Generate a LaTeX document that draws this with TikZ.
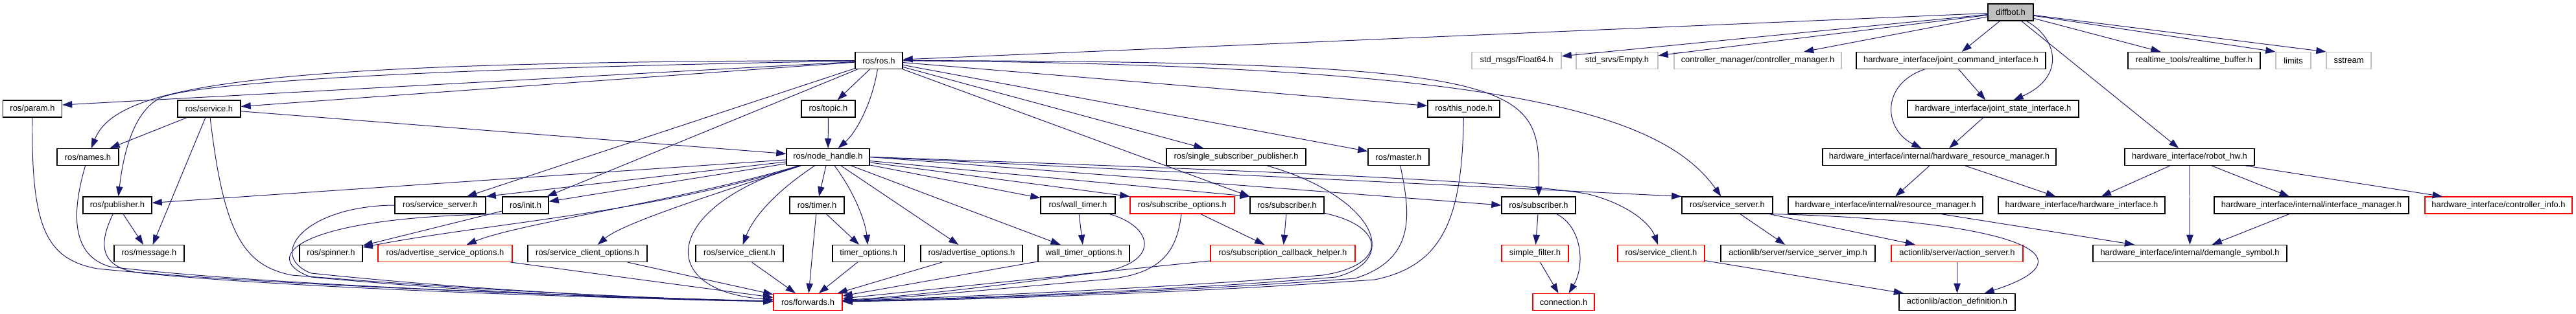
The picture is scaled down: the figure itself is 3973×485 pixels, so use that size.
\documentclass[tikz,border=0pt]{standalone}
\usepackage{fontspec}
\setmainfont{Liberation Sans}
\usepackage{tikz}
\usetikzlibrary{arrows.meta}
\definecolor{edgeblue}{HTML}{191970}
\definecolor{extgray}{HTML}{BFBFBF}

\begin{document}
\begin{tikzpicture}[
  x=0.25mm, y=-0.25mm,
  incbox/.style={rectangle, draw=black, line width=0.8pt, fill=white,
    minimum height=6.5mm, inner xsep=1mm, inner ysep=0pt,
    font=\fontsize{9.2}{10}\selectfont},
  redbox/.style={incbox, draw=red},
  extbox/.style={incbox, draw=extgray},
  rootbox/.style={incbox, fill=extgray},
  bw/.style={minimum width=#1*0.25mm},
  arr/.style={-{Triangle[length=3.8mm, width=2.6mm]}, draw=edgeblue, line width=0.7pt}
]
\useasboundingbox (0,0) rectangle (3973,485);

% Nodes
\node[rootbox, bw=70] (diffbot) at (3101,19) {diffbot.h};

% row 1
\node[incbox, bw=73] (ros) at (1355.5,93.5) {ros/ros.h};
\node[extbox, bw=138] (float64) at (2339,93.5) {std\_msgs/Float64.h};
\node[extbox, bw=126] (empty) at (2494,93.5) {std\_srvs/Empty.h};
\node[extbox, bw=258] (ctrlmgr) at (2711,93.5) {controller\_manager/controller\_manager.h};
\node[incbox, bw=292] (jcmd) at (3009,93.5) {hardware\_interface/joint\_command\_interface.h};
\node[incbox, bw=204] (rtbuf) at (3384,93.5) {realtime\_tools/realtime\_buffer.h};
\node[extbox, bw=54] (limits) at (3537,93.5) {limits};
\node[extbox, bw=69] (sstream) at (3622.5,93.5) {sstream};

% row 2
\node[incbox, bw=91] (param) at (50,168) {ros/param.h};
\node[incbox, bw=97] (service) at (322.5,168) {ros/service.h};
\node[incbox, bw=83] (topic) at (1277.5,168) {ros/topic.h};
\node[incbox, bw=111] (thisnode) at (2257.5,168) {ros/this\_node.h};
\node[incbox, bw=264] (jstate) at (3074,168) {hardware\_interface/joint\_state\_interface.h};

% row 3
\node[incbox, bw=95] (names) at (135.5,242.5) {ros/names.h};
\node[incbox, bw=128] (nh) at (1277,242.5) {ros/node\_handle.h};
\node[incbox, bw=215] (ssp) at (1906.5,242.5) {ros/single\_subscriber\_publisher.h};
\node[incbox, bw=94] (master) at (2157,242.5) {ros/master.h};
\node[incbox, bw=360] (hwrm) at (2991,242.5) {hardware\_interface/internal/hardware\_resource\_manager.h};
\node[incbox, bw=200] (robothw) at (3377,242.5) {hardware\_interface/robot\_hw.h};

% row 4
\node[incbox, bw=106] (pub) at (181,317) {ros/publisher.h};
\node[incbox, bw=140] (srvsrv) at (679,317) {ros/service\_server.h};
\node[incbox, bw=71] (init) at (810.5,317) {ros/init.h};
\node[incbox, bw=84] (timer) at (1260,317) {ros/timer.h};
\node[incbox, bw=115] (wtimer) at (1662.5,317) {ros/wall\_timer.h};
\node[redbox, bw=161] (subopts) at (1823.5,317) {ros/subscribe\_options.h};
\node[incbox, bw=114] (sub) at (1985,317) {ros/subscriber.h};
\node[incbox, bw=114] (subb) at (2373,317) {ros/subscriber.h};
\node[incbox, bw=140] (srvsrvb) at (2664,317) {ros/service\_server.h};
\node[incbox, bw=300] (resmgr) at (2908,317) {hardware\_interface/internal/resource\_manager.h};
\node[incbox, bw=257] (hwif) at (3210.5,317) {hardware\_interface/hardware\_interface.h};
\node[incbox, bw=300] (ifmgr) at (3565,317) {hardware\_interface/internal/interface\_manager.h};
\node[redbox, bw=227] (ctrlinfo) at (3853.5,317) {hardware\_interface/controller\_info.h};

% row 5
\node[incbox, bw=108] (msg) at (230,391.5) {ros/message.h};
\node[incbox, bw=97] (spinner) at (510.5,391.5) {ros/spinner.h};
\node[redbox, bw=207] (advsrvopts) at (686.5,391.5) {ros/advertise\_service\_options.h};
\node[incbox, bw=184] (srvcliopts) at (906,391.5) {ros/service\_client\_options.h};
\node[incbox, bw=135] (srvcli) at (1140.5,391.5) {ros/service\_client.h};
\node[incbox, bw=111] (timeropts) at (1339.5,391.5) {timer\_options.h};
\node[incbox, bw=157] (advopts) at (1498.5,391.5) {ros/advertise\_options.h};
\node[incbox, bw=141] (wtimeropts) at (1671.5,391.5) {wall\_timer\_options.h};
\node[redbox, bw=223] (subcb) at (1978.5,391.5) {ros/subscription\_callback\_helper.h};
\node[redbox, bw=103] (sfilter) at (2367.5,391.5) {simple\_filter.h};
\node[redbox, bw=134] (srvclib) at (2562,391.5) {ros/service\_client.h};
\node[incbox, bw=238] (srvimp) at (2773,391.5) {actionlib/server/service\_server\_imp.h};
\node[redbox, bw=203] (actsrv) at (3018.5,391.5) {actionlib/server/action\_server.h};
\node[incbox, bw=299] (demangle) at (3377.5,391.5) {hardware\_interface/internal/demangle\_symbol.h};

% row 6
\node[redbox, bw=106] (fwd) at (1246,466.5) {ros/forwards.h};
\node[redbox, bw=95] (conn) at (2411.5,466.5) {connection.h};
\node[incbox, bw=179] (actdef) at (3018.5,466.5) {actionlib/action\_definition.h};

% Arrows from diffbot.h
\draw[arr] (diffbot) -- (ros);
\draw[arr] (diffbot) -- (float64);
\draw[arr] (diffbot) -- (empty);
\draw[arr] (diffbot) -- (ctrlmgr);
\draw[arr] (diffbot) -- (jcmd);
\draw[arr] (diffbot) .. controls (3175,60) and (3185,120) .. (jstate);
\draw[arr] (diffbot) -- (robothw);
\draw[arr] (diffbot) -- (rtbuf);
\draw[arr] (diffbot) -- (limits.north west);
\draw[arr] (diffbot) -- (sstream.north west);

% Arrows from ros/ros.h
\draw[arr] (ros) -- ([yshift=1.5mm]param.east);
\draw[arr] (ros) .. controls (400,95) and (180,130) .. (names);
\draw[arr] (ros) .. controls (700,105) and (320,125) .. (250,150)
  .. controls (205,170) and (190,240) .. (pub);
\draw[arr] (ros) -- (service);
\draw[arr] (ros) -- (srvsrv);
\draw[arr] (ros) -- (init);
\draw[arr] (ros) -- (topic);
\draw[arr] (ros) .. controls (1345,160) and (1320,205) .. (nh);
\draw[arr] (ros) -- (ssp);
\draw[arr] (ros.south east) -- (sub.north west);
\draw[arr] (ros) .. controls (2380,95) and (2375,130) .. (subb);
\draw[arr] (ros) .. controls (2300,100) and (2560,170) .. (srvsrvb);
\draw[arr] (ros) -- (thisnode);
\draw[arr] (ros) -- (master);

% Arrows from ros/service.h and the left side
\draw[arr] (service) -- (nh);
\draw[arr] (service) -- (names);
\draw[arr] (service) -- (msg);
\draw[arr] (service) .. controls (345,360) and (375,410) .. (450,425)
  .. controls (700,445) and (950,460) .. (fwd);
\draw[arr] (param) .. controls (48,350) and (70,400) .. (150,415)
  .. controls (400,440) and (900,458) .. (fwd);
\draw[arr] (names) .. controls (110,330) and (110,395) .. (170,412)
  .. controls (400,440) and (900,458) .. (fwd);
\draw[arr] (pub) -- (msg);
\draw[arr] (pub) .. controls (150,380) and (155,415) .. (220,422)
  .. controls (450,445) and (900,460) .. (fwd);
\draw[arr] (topic) -- (nh);

% Arrows from ros/node_handle.h
\draw[arr] (nh) -- (pub);
\draw[arr] (nh) -- (srvsrv.north east);
\draw[arr] (nh) -- (init);
\draw[arr] (nh) .. controls (1000,330) and (750,345) .. (spinner);
\draw[arr] (nh) .. controls (1050,310) and (800,345) .. (advsrvopts);
\draw[arr] (nh) .. controls (1100,300) and (960,345) .. (srvcliopts);
\draw[arr] (nh) .. controls (1190,300) and (1160,340) .. (srvcli);
\draw[arr] (nh) .. controls (1020,320) and (1010,450) .. (fwd);
\draw[arr] (nh) -- (timer);
\draw[arr] (nh) .. controls (1320,300) and (1335,345) .. (timeropts);
\draw[arr] (nh) -- (advopts);
\draw[arr] (nh) -- (wtimeropts);
\draw[arr] (nh) -- (wtimer);
\draw[arr] (nh) -- (subopts.north west);
\draw[arr] (nh) -- (sub.north west);
\draw[arr] (nh.east) -- (subb.west);
\draw[arr] (nh.east) -- (srvsrvb.north west);
\draw[arr] (nh.east) .. controls (1900,262) and (2350,280) .. (2450,300)
  .. controls (2510,315) and (2545,345) .. (srvclib);

% Arrows into ros/forwards.h
\draw[arr] (srvsrv.west) .. controls (470,318) and (410,395) .. (480,422)
  .. controls (700,445) and (950,460) .. (fwd);
\draw[arr] (init) -- (spinner);
\draw[arr] (init.south west) .. controls (450,335) and (400,400) .. (480,428)
  .. controls (720,450) and (950,462) .. (fwd);
\draw[arr] (advsrvopts) -- (fwd);
\draw[arr] (srvcliopts) -- (fwd);
\draw[arr] (srvcli) -- (fwd);
\draw[arr] (timer) -- (timeropts);
\draw[arr] (timer) -- (fwd);
\draw[arr] (timeropts) -- (fwd);
\draw[arr] (advopts) -- (fwd);
\draw[arr] (wtimer) -- (wtimeropts);
\draw[arr] (wtimer) .. controls (1780,350) and (1790,405) .. (1700,420)
  .. controls (1550,440) and (1400,458) .. (fwd);
\draw[arr] (wtimeropts) -- (fwd);
\draw[arr] (subopts) -- (subcb);
\draw[arr] (subopts) .. controls (1815,390) and (1790,425) .. (1700,432)
  .. controls (1550,445) and (1400,460) .. (fwd);
\draw[arr] (subcb) -- (fwd);
\draw[arr] (sub) -- (subcb);
\draw[arr] (sub) .. controls (2140,350) and (2140,410) .. (2040,425)
  .. controls (1800,445) and (1450,460) .. (fwd);
\draw[arr] (ssp) .. controls (2110,300) and (2170,400) .. (2060,428)
  .. controls (1800,450) and (1450,462) .. (fwd);
\draw[arr] (master) .. controls (2175,330) and (2185,400) .. (2090,430)
  .. controls (1800,452) and (1450,463) .. (fwd);
\draw[arr] (thisnode) .. controls (2255,330) and (2230,410) .. (2120,432)
  .. controls (1800,455) and (1450,464) .. (fwd);

% message_filters and actionlib
\draw[arr] (subb) -- (sfilter);
\draw[arr] (subb) .. controls (2440,350) and (2445,410) .. (conn);
\draw[arr] (sfilter) -- (conn);
\draw[arr] (srvsrvb) -- (srvimp);
\draw[arr] (srvsrvb) -- (actsrv);
\draw[arr] (srvsrvb.south east) .. controls (3100,340) and (3240,395) .. (actdef);
\draw[arr] (actsrv) -- (actdef);
\draw[arr] (srvclib) -- (actdef);

% hardware_interface
\draw[arr] (jcmd) -- (jstate);
\draw[arr] (jcmd) .. controls (2900,130) and (2905,200) .. (hwrm);
\draw[arr] (jstate) -- (hwrm);
\draw[arr] (hwrm) -- (resmgr);
\draw[arr] (hwrm) -- (hwif);
\draw[arr] (resmgr) -- (demangle);
\draw[arr] (robothw) -- (hwif);
\draw[arr] (robothw) -- (demangle);
\draw[arr] (robothw) -- (ifmgr);
\draw[arr] (robothw) -- (ctrlinfo);
\draw[arr] (ifmgr) -- (demangle);

\end{tikzpicture}
\end{document}
